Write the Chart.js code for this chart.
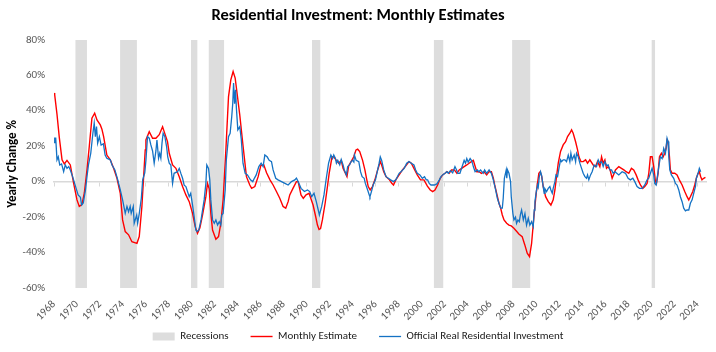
<!DOCTYPE html>
<html>
<head>
<meta charset="utf-8">
<script src="https://cdn.jsdelivr.net/npm/chart.js@4.4.1/dist/chart.umd.min.js"></script>
<style>
html,body{margin:0;padding:0;background:#fff;}
#wrap{width:716px;height:352px;position:relative;}
</style>
</head>
<body>
<div id="wrap"><canvas id="c" width="716" height="352"></canvas></div>
<script>
const chartTitle = 'Residential Investment: Monthly Estimates';
const yAxisTitle = 'Yearly Change %';
const seriesNames = ['Recessions', 'Monthly Estimate', 'Official Real Residential Investment'];
const yearTicks = [1968,1970,1972,1974,1976,1978,1980,1982,1984,1986,1988,1990,1992,1994,1996,1998,2000,2002,2004,2006,2008,2010,2012,2014,2016,2018,2020,2022,2024];
const recessionStarts = [1969.85,1973.75,1979.92,1981.45,1990.45,2001.05,2007.87,2020.0];
const recessionEnds   = [1970.87,1975.22,1980.5,1982.82,1991.2,2001.9,2009.47,2020.33];

const redYears = [1968.0,1968.06,1968.26,1968.46,1968.7,1968.9,1969.13,1969.42,1969.71,1970.0,1970.2,1970.43,1970.64,1970.87,1971.07,1971.3,1971.54,1971.74,1972.03,1972.17,1972.32,1972.6,1972.9,1973.19,1973.48,1973.77,1973.97,1974.2,1974.49,1974.78,1975.22,1975.42,1975.65,1975.94,1976.0,1976.29,1976.58,1976.87,1977.16,1977.45,1977.59,1977.88,1978.03,1978.32,1978.61,1978.9,1979.19,1979.48,1979.77,1980.06,1980.29,1980.49,1980.7,1980.93,1981.22,1981.36,1981.51,1981.65,1981.8,1982.09,1982.32,1982.52,1982.72,1982.96,1983.19,1983.39,1983.59,1983.77,1983.97,1984.17,1984.46,1984.75,1985.04,1985.2,1985.48,1985.77,1986.0,1986.26,1986.5,1986.8,1987.07,1987.36,1987.65,1987.94,1988.17,1988.38,1988.52,1988.8,1989.1,1989.25,1989.5,1989.7,1989.94,1990.2,1990.35,1990.55,1990.78,1990.93,1991.07,1991.2,1991.36,1991.6,1991.8,1991.95,1992.2,1992.35,1992.57,1992.78,1993.0,1993.16,1993.36,1993.5,1993.65,1993.86,1994.09,1994.29,1994.43,1994.61,1994.86,1995.06,1995.2,1995.35,1995.52,1995.72,1995.93,1996.17,1996.4,1996.52,1996.7,1996.9,1997.2,1997.4,1997.55,1997.75,1998.04,1998.33,1998.62,1998.9,1999.1,1999.33,1999.62,1999.9,2000.2,2000.5,2000.75,2000.96,2001.16,2001.39,2001.62,2001.83,2002.03,2002.2,2002.4,2002.6,2002.84,2003.07,2003.27,2003.48,2003.7,2003.93,2004.13,2004.33,2004.5,2004.62,2004.8,2005.0,2005.2,2005.43,2005.66,2005.87,2006.07,2006.24,2006.36,2006.53,2006.73,2006.88,2007.02,2007.17,2007.4,2007.6,2007.8,2008.03,2008.26,2008.46,2008.75,2008.98,2009.19,2009.39,2009.57,2009.77,2009.97,2010.2,2010.32,2010.45,2010.58,2010.79,2011.02,2011.25,2011.45,2011.6,2011.74,2011.89,2012.09,2012.32,2012.53,2012.7,2012.9,2013.05,2013.19,2013.4,2013.57,2013.69,2013.86,2014.06,2014.27,2014.44,2014.64,2014.93,2015.13,2015.31,2015.51,2015.66,2015.8,2015.95,2016.09,2016.24,2016.4,2016.58,2016.76,2016.87,2017.16,2017.39,2017.6,2017.8,2018.03,2018.26,2018.46,2018.67,2018.84,2019.04,2019.25,2019.42,2019.62,2019.77,2019.91,2020.06,2020.2,2020.35,2020.44,2020.58,2020.7,2020.87,2021.02,2021.16,2021.28,2021.36,2021.45,2021.57,2021.65,2021.8,2022.03,2022.23,2022.43,2022.67,2022.9,2023.1,2023.25,2023.39,2023.6,2023.77,2023.91,2024.06,2024.17,2024.29,2024.4,2024.55,2024.7];
const redValues = [50,49,38,25,12.3,10,12,9.4,-1,-10.3,-14,-13,-6.4,6.6,19.8,35.8,38.6,34.8,32,29.6,25.4,15,12.3,7.5,1.9,-6.6,-21.6,-28.2,-30,-33.9,-34.8,-31,-14,17.9,23.5,28.2,24.5,24.5,26.5,31,28.2,22.6,16,9.4,7.5,2.8,-2.8,-7.5,-11.3,-17.9,-25.4,-29.1,-26,-18.8,-8.5,-1,-4,-17.9,-27.3,-32.5,-31,-23.5,-10.3,17.9,48,57.4,62.1,58.4,48,37.5,19.8,2.8,-1.9,-3.8,-2.8,2.8,9,9.5,5,1,-1.9,-5.6,-9.4,-14,-15,-11.3,-7.5,-3.8,0,0,-7.5,-9.4,-7.5,-6.6,-9.4,-13.2,-19.8,-24.5,-27,-26.5,-21.6,-12.2,-2.8,4.7,14,14,12,10.4,12,7.5,4.7,2.8,9,11.3,14,17.9,18.3,17,12,6.6,1.9,-2.8,-4.7,-2.8,1,6.6,11.3,9.4,5.6,2.8,1,-0.9,-1.9,1,3.8,6.6,8.9,11.3,10.4,7.5,3.8,1,1,-2.5,-4.7,-5.6,-4.7,-1.9,1.9,3.8,4.7,5.6,4.7,6.6,6.6,4.7,6.6,7.5,8.5,9.4,10.4,11.3,12,9.4,5.6,5.6,4.7,5.6,3.8,5.6,5.6,1.9,-1.9,-6.6,-12.2,-15,-18.8,-21.6,-23.5,-24.5,-25,-26.3,-28,-29.5,-31,-35.7,-40.4,-42.3,-34.8,-19.8,-6.6,4.7,5.6,3,-2.8,-8.5,-11.3,-13.2,-10.3,-4.7,2.8,10.4,17,20.7,22.5,25.4,27.3,29.2,27.3,22.5,17.9,14,11.3,11.3,12.3,10.4,12.3,9.4,8.5,11.3,8.5,14,10.4,12.3,7.5,8.5,6.6,1.9,4.7,6.6,8.5,7.5,6.6,5.6,4.7,7.5,6.6,3.8,1,-1.9,-3.8,-2.8,-1,4.7,14,14,8.5,0,-1,4.7,14,16,14,16,18.8,23.5,22.6,14,6.6,4.7,4.7,3.8,1,-1.9,-5.6,-8.5,-10.3,-8.5,-5.6,-1.9,1.9,4.7,5.6,2.8,1,1.9,2.4];

const blueYears = [1968.0,1968.06,1968.15,1968.26,1968.37,1968.5,1968.66,1968.84,1968.98,1969.13,1969.28,1969.42,1969.62,1969.88,1970.1,1970.3,1970.4,1970.55,1970.74,1970.87,1971.0,1971.2,1971.38,1971.5,1971.6,1971.7,1971.8,1971.95,1972.1,1972.3,1972.45,1972.6,1972.9,1973.05,1973.3,1973.55,1973.77,1973.97,1974.2,1974.35,1974.49,1974.63,1974.72,1974.9,1974.98,1975.2,1975.28,1975.42,1975.6,1975.72,1975.9,1976.0,1976.14,1976.29,1976.43,1976.58,1976.72,1976.87,1976.96,1977.1,1977.2,1977.3,1977.4,1977.5,1977.65,1977.8,1977.9,1978.03,1978.17,1978.25,1978.32,1978.45,1978.75,1978.9,1979.05,1979.19,1979.33,1979.48,1979.62,1979.77,1979.9,1980.06,1980.2,1980.35,1980.45,1980.6,1980.8,1980.93,1981.07,1981.22,1981.3,1981.45,1981.56,1981.65,1981.8,1981.95,1982.09,1982.24,1982.38,1982.52,1982.6,1982.72,1982.9,1983.0,1983.19,1983.33,1983.47,1983.56,1983.63,1983.72,1983.8,1983.88,1984.0,1984.17,1984.3,1984.45,1984.64,1984.84,1985.1,1985.3,1985.45,1985.6,1985.83,1986.03,1986.2,1986.35,1986.55,1986.73,1986.93,1987.07,1987.3,1987.5,1987.8,1988.1,1988.38,1988.67,1988.96,1989.1,1989.25,1989.5,1989.8,1990.06,1990.26,1990.43,1990.63,1990.83,1991.0,1991.1,1991.3,1991.5,1991.7,1991.9,1992.1,1992.25,1992.35,1992.5,1992.58,1992.7,1992.87,1993.0,1993.16,1993.27,1993.45,1993.56,1993.73,1993.86,1993.98,1994.1,1994.15,1994.3,1994.53,1994.68,1994.82,1995.0,1995.1,1995.3,1995.44,1995.5,1995.63,1995.78,1995.98,1996.17,1996.3,1996.4,1996.52,1996.7,1996.9,1997.1,1997.3,1997.55,1997.75,1998.04,1998.2,1998.48,1998.7,1998.9,1999.1,1999.33,1999.48,1999.62,1999.85,2000.06,2000.25,2000.4,2000.52,2000.66,2000.81,2001.1,2001.33,2001.54,2001.68,2001.83,2002.03,2002.2,2002.32,2002.5,2002.7,2002.9,2003.04,2003.15,2003.33,2003.57,2003.7,2003.82,2003.93,2004.05,2004.22,2004.33,2004.42,2004.5,2004.65,2004.85,2004.98,2005.13,2005.36,2005.48,2005.66,2005.87,2006.07,2006.24,2006.44,2006.59,2006.73,2006.88,2007.02,2007.1,2007.2,2007.36,2007.41,2007.47,2007.6,2007.74,2007.8,2007.94,2008.03,2008.17,2008.26,2008.38,2008.5,2008.6,2008.7,2008.85,2008.99,2009.13,2009.28,2009.42,2009.57,2009.71,2009.8,2009.86,2010.0,2010.1,2010.15,2010.24,2010.35,2010.44,2010.58,2010.67,2010.73,2010.87,2011.02,2011.16,2011.25,2011.37,2011.45,2011.6,2011.69,2011.83,2011.95,2012.09,2012.18,2012.32,2012.47,2012.61,2012.76,2012.9,2012.99,2013.1,2013.28,2013.4,2013.48,2013.63,2013.77,2013.92,2014.06,2014.21,2014.35,2014.44,2014.55,2014.7,2014.84,2015.02,2015.22,2015.37,2015.51,2015.66,2015.8,2015.95,2016.1,2016.24,2016.38,2016.53,2016.67,2016.82,2017.16,2017.45,2017.74,2017.97,2018.17,2018.38,2018.55,2018.75,2018.96,2019.19,2019.42,2019.62,2019.77,2019.91,2020.06,2020.2,2020.29,2020.41,2020.52,2020.64,2020.78,2020.93,2021.07,2021.22,2021.36,2021.45,2021.51,2021.6,2021.74,2021.94,2022.09,2022.23,2022.38,2022.52,2022.67,2022.81,2022.96,2023.1,2023.25,2023.39,2023.54,2023.68,2023.83,2023.91,2024.06,2024.17,2024.29];
const blueValues = [22,24.5,24.5,12.3,14,9.4,10,5.6,9.4,7.5,8.5,6.6,2.8,-2.8,-7.5,-8.8,-13.2,-12,-4.7,2.8,9.4,16,27,33,25.4,31,21.7,25.4,20.6,21.3,15,13.2,12.3,9.4,6.6,1,-4.7,-10.3,-17.9,-14,-17,-14,-17.9,-14,-23.5,-18.8,-23.5,-18,-9.4,1,5,12,25.4,24.5,20.7,17.3,10.4,17.3,23.5,13.2,16,13.2,21.7,27.3,25.4,19.8,14,10.4,9.4,3.8,-1,4.7,5.6,7.5,4.5,1.9,-2,-2.8,-5.6,-8.5,-6.6,-13.2,-19.8,-27.3,-28.2,-27.3,-21.6,-16,-10.3,-1,9.4,7.5,1,-10.3,-21.6,-23.5,-21.6,-24.5,-22.6,-24.5,-18.8,-18,-4.7,12.3,25.4,27.3,36.7,44.3,55.6,44,51.8,41,29.2,31,24,10.4,4.7,3.8,1,0,2,3.8,8.5,10.4,8.5,15,14,12,11.3,6.6,1.9,1,0,-1,-1.9,0,1,2,0,-3.8,-5.6,-4.7,-5.6,-8.5,-6.6,-11.3,-16,-18.8,-14,-7.5,1.9,10.4,15,13,15,13,10.4,12,9.5,12.5,9.4,6.6,3.8,8.5,9.4,11.3,12,11,15,12,11.3,5.6,2.8,1.9,-1,-4.7,-7.5,-8.5,-5.6,-1.9,1,6.6,10.4,14,12,6.6,2.8,1.9,1,0,1,4.7,5.6,7.5,10.4,11.3,10.4,9.4,6.6,4.7,3.8,1.9,2.8,1,1,-1,-1.9,-1.9,-1.3,1,2.8,3.8,4.7,5.6,4.7,6.2,5,8.5,6.6,4.7,4.7,9.4,12,10.4,13,11,13,12,10.4,8.5,5.6,6.6,5.6,6.6,4.7,6.6,4.7,6.6,4.7,1,-4.7,-9.4,-12.2,-15,-15,-9.4,1.9,6.6,1.9,6.6,4.7,0,-8.5,-17.9,-21.6,-20,-23.5,-21.6,-22.6,-18.5,-16,-21.6,-18,-24.5,-20.7,-24.5,-22.6,-25.4,-16,-11.3,-4.7,-1.9,-3,2.8,5.6,3.5,-2.8,-6.6,-4,-5.6,-3.8,-2.8,-4.7,-6.6,-3.8,0,3.8,2.8,7.5,12.3,11.3,12.3,12.3,11.3,15,11.3,16,12.3,15,11.3,16,14,10.4,7.5,4.7,2.8,1.9,3.8,1,3.8,5.6,9.4,8.5,12.3,10.4,11.3,8.5,11.3,9,9.4,6.6,6.6,4.7,5.6,3.8,5.6,4.7,1.9,1,1.9,0,-2.8,-3.8,-3.8,-1.9,1,1.9,4.7,7.5,3.8,-1,-1.9,2.8,8.5,14,13,18.8,16,24.5,22.6,14,6.6,3.8,1.9,-1,-1.9,-4.7,-8.5,-11.3,-15,-16.5,-16,-16,-12.2,-10.3,-6.6,-2.8,1.9,4.7,7.5,5.6];

const FONT = "Carlito, 'Liberation Sans Narrow', 'Liberation Sans', sans-serif";

const recessionData = [];
recessionStarts.forEach((s, i) => {
  recessionData.push({x: s, y: 80}, {x: recessionEnds[i], y: 80}, {x: recessionEnds[i], y: null});
});
const pairs = (xs, ys) => xs.map((x, i) => ({x: x, y: ys[i]}));
const tickSetter = s => { s.ticks = yearTicks.map(v => ({value: v})); };

// let the rotated year labels extend below the (compact) x-axis box instead of being clipped
const labelRoom = {
  id: 'labelRoom',
  afterLayout(chart) { chart.scales.x.bottom = chart.height; }
};

new Chart(document.getElementById('c'), {
  type: 'line',
  data: {
    datasets: [
      {label: seriesNames[0], data: recessionData, backgroundColor: '#dddddd', borderColor: '#dddddd', borderWidth: 0,
       fill: {value: -60}, pointRadius: 0, pointStyle: 'rect', spanGaps: false, order: 3},
      {label: seriesNames[1], data: pairs(redYears, redValues), borderColor: '#ff0000', backgroundColor: '#ff0000',
       borderWidth: 1.4, pointRadius: 0, pointStyle: 'line', fill: false, tension: 0, order: 2},
      {label: seriesNames[2], data: pairs(blueYears, blueValues), borderColor: '#1472c4', backgroundColor: '#1472c4',
       borderWidth: 1.3, pointRadius: 0, pointStyle: 'line', fill: false, tension: 0, order: 1}
    ]
  },
  plugins: [labelRoom],
  options: {
    responsive: false, animation: false, devicePixelRatio: 1,
    layout: {padding: {left: 0, right: 0, top: 0, bottom: 0}},
    plugins: {
      tooltip: {enabled: false},
      title: {display: true, text: chartTitle, color: '#000', font: {family: FONT, size: 16.5, weight: 'bold'}, padding: {top: 6, bottom: 14}},
      legend: {position: 'bottom', labels: {usePointStyle: true, pointStyleWidth: 22, boxHeight: 8, padding: 22,
        sort: (a, b) => a.datasetIndex - b.datasetIndex,
        color: '#1a1a1a', font: {family: FONT, size: 11}}}
    },
    scales: {
      x: {type: 'linear', min: 1968, max: 2024.75, position: 'bottom',
        grid: {display: false}, border: {display: false},
        afterBuildTicks: tickSetter,
        afterFit: s => { s.height = 21; },
        ticks: {autoSkip: false, minRotation: 45, maxRotation: 45, color: '#595959', padding: 2,
          font: {family: FONT, size: 11}, callback: v => String(v)}},
      xz: {type: 'linear', min: 1968, max: 2024.75, position: {y: 0},
        afterBuildTicks: tickSetter,
        grid: {drawOnChartArea: false, drawTicks: true, tickLength: 4, color: '#d9d9d9', lineWidth: 1},
        border: {display: true, color: '#d9d9d9', width: 1.5},
        ticks: {display: false}},
      y: {min: -60, max: 80, position: 'left',
        afterFit: s => { s.width = 54; },
        grid: {display: false, drawTicks: false}, border: {display: false},
        ticks: {stepSize: 20, color: '#595959', padding: 9, font: {family: FONT, size: 11}, callback: v => v + '%'},
        title: {display: true, text: yAxisTitle, color: '#000', font: {family: FONT, size: 13, weight: 'bold'}, padding: {top: 5, bottom: 0}}},
      yr: {type: 'linear', position: 'right', min: 0, max: 1,
        afterFit: s => { s.width = 10; },
        grid: {display: false}, border: {display: false}, ticks: {display: false}}
    }
  }
});
</script>
</body>
</html>
